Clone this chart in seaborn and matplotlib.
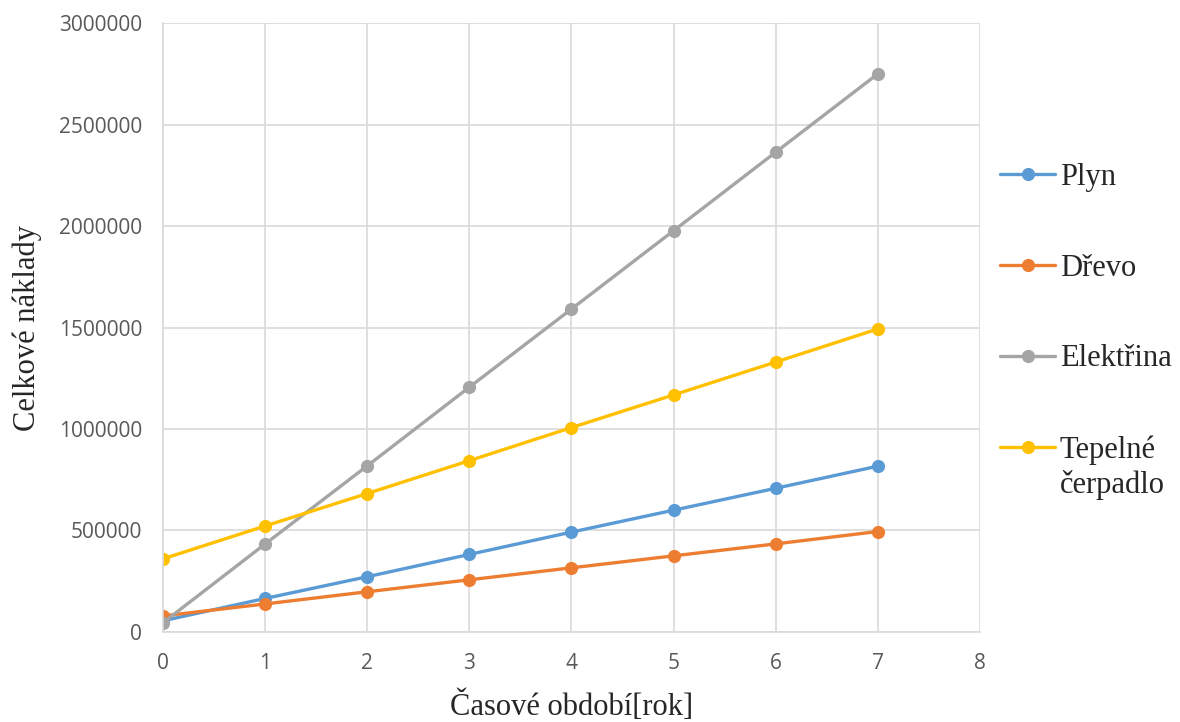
import pandas as pd
import matplotlib.pyplot as plt
import seaborn as sns

roky = [0, 1, 2, 3, 4, 5, 6, 7]
plyn = [55000, 165000, 272000, 382000, 492000, 600000, 708000, 817000]
drevo = [79000, 138000, 198000, 257000, 316000, 375000, 434000, 495000]
elektrina = [45000, 433000, 818000, 1206000, 1591000, 1977000, 2364000, 2750000]
cerpadlo = [360000, 522000, 682000, 844000, 1007000, 1168000, 1330000, 1493000]

nazvy = ['Plyn', 'Dřevo', 'Elektřina', 'Tepelné']
barvy = ['#5B9BD5', '#ED7D31', '#A5A5A5', '#FFC000']

df = pd.DataFrame({'rok': roky * 4,
                   'naklady': plyn + drevo + elektrina + cerpadlo,
                   'zdroj': [n for n in nazvy for _ in roky]})

sns.set_style('white')
plt.rcParams['font.family'] = ['Open Sans', 'DejaVu Sans']

fig, ax = plt.subplots(figsize=(11.8, 7.22), dpi=100)
fig.subplots_adjust(left=0.138, right=0.8305, top=0.968, bottom=0.1247)

sns.lineplot(data=df, x='rok', y='naklady', hue='zdroj', palette=barvy,
             marker='o', markersize=9.5, markeredgewidth=0, linewidth=2.4,
             ax=ax, legend=True)

ax.set_xlim(0, 8)
ax.set_ylim(0, 3000000)
ax.set_xticks(range(0, 9))
ax.set_yticks(range(0, 3000001, 500000))
ax.ticklabel_format(axis='y', style='plain')
ax.grid(True, color='#D9D9D9', linewidth=1.2)
ax.set_axisbelow(True)
for s in ['top', 'right']:
    ax.spines[s].set_visible(False)
for s in ['left', 'bottom']:
    ax.spines[s].set_color('#D9D9D9')
    ax.spines[s].set_linewidth(1.2)
ax.tick_params(axis='both', labelsize=15, colors='#595959', length=0, pad=15)

ax.set_xlabel('Časové období[rok]', fontsize=22, family='Liberation Serif', labelpad=12)
ax.set_ylabel('Celkové náklady', fontsize=22, family='Liberation Serif', labelpad=12)

handles, labels = ax.get_legend_handles_labels()
leg = ax.legend(handles, labels, loc='upper left', bbox_to_anchor=(1000 / 1180, 1 - 163 / 722),
                bbox_transform=fig.transFigure, frameon=False, borderpad=0, borderaxespad=0,
                prop={'family': 'Liberation Serif', 'size': 22},
                labelspacing=2.02, handlelength=1.8, handletextpad=0.15)

# druhý řádek popisku tepelného čerpadla
fig.text(1060 / 1180, 1 - 485 / 722, 'čerpadlo', family='Liberation Serif', fontsize=22,
         va='center', ha='left')

plt.savefig('out.png', dpi=100)
plt.close()
